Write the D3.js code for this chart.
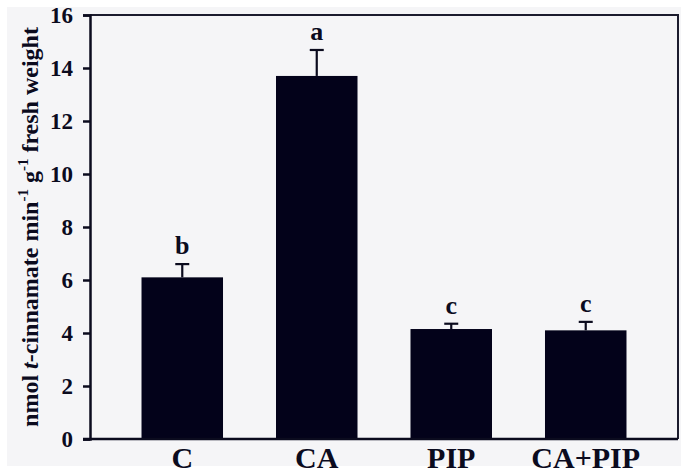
<!DOCTYPE html>
<html>
<head>
<meta charset="utf-8">
<script src="https://cdn.jsdelivr.net/npm/d3@7"></script>
<style>
  html, body { margin: 0; padding: 0; background: #ffffff; }
  svg { display: block; }
</style>
</head>
<body>
<svg id="chart" width="688" height="475"></svg>
<script>
const categories = ["C", "CA", "PIP", "CA+PIP"];
const values = [6.1, 13.7, 4.15, 4.1];
const errors = [0.5, 0.98, 0.2, 0.32];
const letters = ["b", "a", "c", "c"];
const yTicks = [0, 2, 4, 6, 8, 10, 12, 14, 16];

const svg = d3.select("#chart");
const m = { left: 90, right: 678, top: 15, bottom: 439 };
const ink = "#0b0b1e";
const barColor = "#03021a";
const serif = "'Liberation Serif', 'Times New Roman', serif";

svg.append("rect").attr("x", 7).attr("y", 7).attr("width", 674).attr("height", 459)
  .attr("fill", "#f5f5f7");

const x = d3.scaleBand().domain(categories).range([m.left, m.right])
  .paddingInner(0.394).paddingOuter(0.383);
const y = d3.scaleLinear().domain([0, 16]).range([m.bottom, m.top]);

// frame (top and right)
svg.append("path")
  .attr("d", `M${m.left},${m.top}H${m.right}V${m.bottom}`)
  .attr("fill", "none").attr("stroke", "#1c1c2e").attr("stroke-width", 2);

// bars
svg.selectAll("rect.bar").data(categories).enter().append("rect")
  .attr("class", "bar")
  .attr("x", d => x(d))
  .attr("width", x.bandwidth())
  .attr("y", (d, i) => y(values[i]))
  .attr("height", (d, i) => y(0) - y(values[i]))
  .attr("fill", barColor);

// error bars
const eb = svg.append("g").attr("stroke", ink).attr("stroke-width", 2.2).attr("fill", "none");
categories.forEach((c, i) => {
  const cx = x(c) + x.bandwidth() / 2;
  eb.append("line").attr("x1", cx).attr("x2", cx).attr("y1", y(values[i])).attr("y2", y(values[i] + errors[i]));
  eb.append("line").attr("x1", cx - 7).attr("x2", cx + 7).attr("y1", y(values[i] + errors[i])).attr("y2", y(values[i] + errors[i]));
});

// significance letters
svg.selectAll("text.sig").data(categories).enter().append("text")
  .attr("class", "sig")
  .attr("x", d => x(d) + x.bandwidth() / 2)
  .attr("y", (d, i) => y(values[i] + errors[i]) - 10)
  .attr("text-anchor", "middle")
  .attr("font-family", serif).attr("font-weight", "bold").attr("font-size", 26)
  .attr("fill", ink)
  .text((d, i) => letters[i]);

// y axis
const yAxis = d3.axisLeft(y).tickValues(yTicks).tickSize(7).tickPadding(10).tickFormat(d3.format("d"));
const gy = svg.append("g").attr("transform", `translate(${m.left},0)`).call(yAxis);
gy.select(".domain").attr("stroke", ink).attr("stroke-width", 2.5);
gy.selectAll(".tick line").attr("stroke", ink).attr("stroke-width", 2.5);
gy.selectAll(".tick text").attr("font-family", serif).attr("font-weight", "bold")
  .attr("font-size", 23).attr("fill", ink);

// x axis
const xAxis = d3.axisBottom(x).tickSize(0).tickPadding(8);
const gx = svg.append("g").attr("transform", `translate(0,${m.bottom})`).call(xAxis);
gx.select(".domain").attr("stroke", ink).attr("stroke-width", 2.5)
  .attr("d", `M${m.left - 7},0H${m.right}`);
gx.selectAll(".tick text").attr("font-family", serif).attr("font-weight", "bold")
  .attr("font-size", 30).attr("fill", ink).attr("dy", "0.71em");

// y title
const title = svg.append("text")
  .attr("transform", `translate(38,${(m.top + m.bottom) / 2}) rotate(-90)`)
  .attr("text-anchor", "middle")
  .attr("font-family", serif).attr("font-weight", "bold").attr("font-size", 24)
  .attr("fill", ink);
title.append("tspan").text("nmol ");
title.append("tspan").attr("font-style", "italic").text("t");
title.append("tspan").text("-cinnamate min");
title.append("tspan").attr("font-size", 15).attr("dy", -10).text("-1");
title.append("tspan").attr("dy", 10).text(" g");
title.append("tspan").attr("font-size", 15).attr("dy", -10).text("-1");
title.append("tspan").attr("dy", 10).text(" fresh weight");
</script>
</body>
</html>
